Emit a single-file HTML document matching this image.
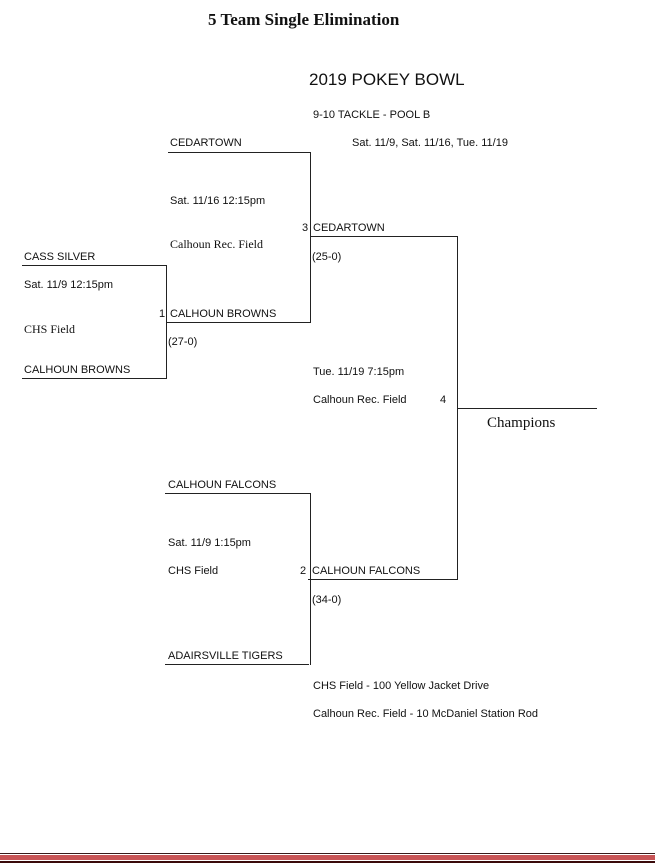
<!DOCTYPE html>
<html><head><meta charset="utf-8"><style>
body{margin:0;width:655px;height:863px;background:#fff;position:relative;overflow:hidden;font-family:"Liberation Sans",sans-serif;color:#111}
.t{position:absolute;font-size:11px;white-space:nowrap;line-height:1}
.s{font-family:"Liberation Serif",serif;font-size:12px}
.h{position:absolute;height:1px;background:#222}
.v{position:absolute;width:1px;background:#222}
</style></head><body>
<div class="t" style="left:208px;top:11px;font-family:'Liberation Serif',serif;font-weight:bold;font-size:17px">5 Team Single Elimination</div>
<div class="t" style="left:309px;top:71px;font-size:17px">2019 POKEY BOWL</div>
<div class="t" style="left:313px;top:110px">9-10 TACKLE - POOL B</div>
<div class="t" style="left:352px;top:138px">Sat. 11/9, Sat. 11/16, Tue. 11/19</div>

<div class="t" style="left:170px;top:138px">CEDARTOWN</div>
<div class="h" style="left:168px;top:152px;width:143px"></div>
<div class="v" style="left:310px;top:152px;height:171px"></div>
<div class="t" style="left:170px;top:196px">Sat. 11/16 12:15pm</div>
<div class="t s" style="left:170px;top:238px">Calhoun Rec. Field</div>

<div class="t" style="left:24px;top:252px">CASS SILVER</div>
<div class="h" style="left:22px;top:265px;width:145px"></div>
<div class="v" style="left:166px;top:265px;height:114px"></div>
<div class="t" style="left:24px;top:280px">Sat. 11/9 12:15pm</div>
<div class="t s" style="left:24px;top:323px">CHS Field</div>
<div class="t" style="left:24px;top:365px">CALHOUN BROWNS</div>
<div class="h" style="left:22px;top:378px;width:145px"></div>

<div class="t" style="left:159px;top:309px">1</div>
<div class="t" style="left:170px;top:309px">CALHOUN BROWNS</div>
<div class="h" style="left:166px;top:322px;width:145px"></div>
<div class="t" style="left:168px;top:337px">(27-0)</div>

<div class="t" style="left:302px;top:223px">3</div>
<div class="t" style="left:313px;top:223px">CEDARTOWN</div>
<div class="h" style="left:310px;top:236px;width:148px"></div>
<div class="v" style="left:457px;top:236px;height:343px"></div>
<div class="t" style="left:312px;top:252px">(25-0)</div>

<div class="t" style="left:313px;top:367px">Tue. 11/19 7:15pm</div>
<div class="t" style="left:313px;top:395px">Calhoun Rec. Field</div>
<div class="t" style="left:440px;top:395px">4</div>
<div class="h" style="left:457px;top:408px;width:140px"></div>
<div class="t" style="left:487px;top:416px;font-family:'Liberation Serif',serif;font-size:15px">Champions</div>

<div class="t" style="left:168px;top:480px">CALHOUN FALCONS</div>
<div class="h" style="left:165px;top:493px;width:146px"></div>
<div class="v" style="left:310px;top:493px;height:172px"></div>
<div class="t" style="left:168px;top:538px">Sat. 11/9 1:15pm</div>
<div class="t" style="left:168px;top:566px">CHS Field</div>
<div class="t" style="left:300px;top:566px">2</div>
<div class="t" style="left:312px;top:566px">CALHOUN FALCONS</div>
<div class="h" style="left:308px;top:579px;width:150px"></div>
<div class="t" style="left:312px;top:595px">(34-0)</div>
<div class="t" style="left:168px;top:651px">ADAIRSVILLE TIGERS</div>
<div class="h" style="left:165px;top:664px;width:144px"></div>

<div class="t" style="left:313px;top:681px">CHS Field - 100 Yellow Jacket Drive</div>
<div class="t" style="left:313px;top:709px">Calhoun Rec. Field - 10 McDaniel Station Rod</div>

<div style="position:absolute;left:0;top:853px;width:655px;height:1px;background:#3a1a1a"></div>
<div style="position:absolute;left:0;top:855px;width:655px;height:5px;background:#c85456"></div>
<div style="position:absolute;left:0;top:861px;width:655px;height:2px;background:#3a0a0a"></div>
</body></html>
